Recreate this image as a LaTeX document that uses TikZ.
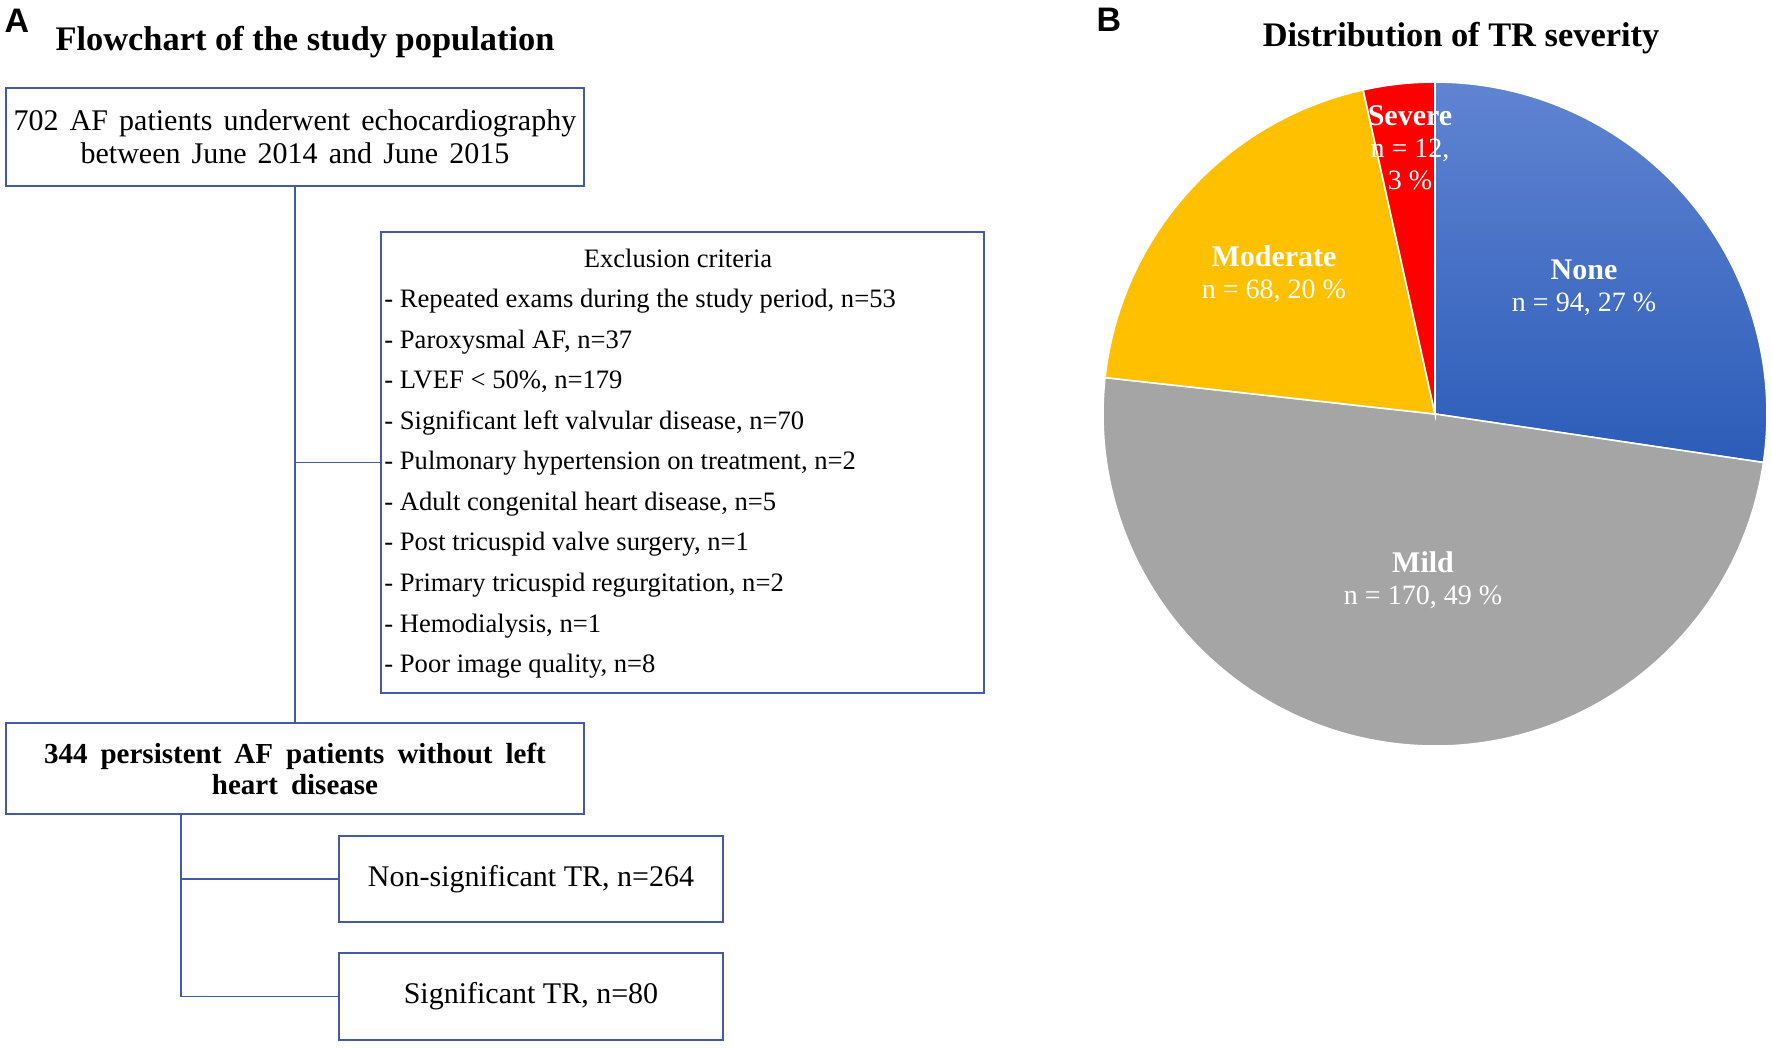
\documentclass[tikz,border=0pt]{standalone}
\usepackage{fontspec}
\setmainfont{Liberation Serif}
\newfontfamily\panelfont{Liberation Sans}
\usetikzlibrary{calc}
\definecolor{edgeblue}{RGB}{68,90,165}
\definecolor{nonetop}{RGB}{96,132,210}
\definecolor{nonebot}{RGB}{44,92,184}
\definecolor{mildgray}{RGB}{165,165,165}
\definecolor{modyellow}{RGB}{255,192,0}
\definecolor{sevred}{RGB}{255,0,0}
\newcommand{\widesp}[1]{\spaceskip=#1\relax}
\begin{document}
\begin{tikzpicture}[x=0.5pt,y=-0.5pt,
  box/.style={draw=edgeblue, line width=0.8pt, inner sep=0pt},
  conn/.style={draw=edgeblue, line width=0.8pt},
  crit/.style={anchor=base west, inner sep=0pt, font=\fontsize{13.3}{16}\selectfont},
  paneltag/.style={inner sep=0pt, font=\panelfont\bfseries\fontsize{17}{19}\selectfont},
  ptitle/.style={inner sep=0pt, font=\bfseries\fontsize{17.2}{20}\selectfont},
  slice/.style={draw=white, line width=0.8pt},
  pielab/.style={text=white, align=center, inner sep=0pt, font=\fontsize{14}{16}\selectfont}]
\useasboundingbox[fill=white] (0,0) rectangle (1772,1049);

% ---------- Panel A ----------
\node[paneltag] (la) at (17,21) {A};
\node[ptitle] (ta) at (305,42) {Flowchart of the study population};

\node[box, minimum width=289pt, minimum height=49pt, align=center,
      font=\fontsize{15}{16.5}\selectfont\widesp{0.37em}] (b1) at (295,137)
  {702 AF patients underwent echocardiography\\between June 2014 and June 2015};

\node[box, minimum width=301.5pt, minimum height=230.5pt] (ex) at (682.5,462.5) {};
\node[inner sep=0pt, font=\fontsize{13.3}{16}\selectfont] (ext) at (678,258) {Exclusion criteria};
\node[crit] (e1) at (384,307.5) {- Repeated exams during the study period, n=53};
\node[crit] (e2) at (384,348) {- Paroxysmal AF, n=37};
\node[crit] (e3) at (384,388.6) {- LVEF < 50\%, n=179};
\node[crit] (e4) at (384,429.2) {- Significant left valvular disease, n=70};
\node[crit] (e5) at (384,469.7) {- Pulmonary hypertension on treatment, n=2};
\node[crit] (e6) at (384,510.3) {- Adult congenital heart disease, n=5};
\node[crit] (e7) at (384,550.9) {- Post tricuspid valve surgery, n=1};
\node[crit] (e8) at (384,591.4) {- Primary tricuspid regurgitation, n=2};
\node[crit] (e9) at (384,632) {- Hemodialysis, n=1};
\node[crit] (e10) at (384,672.5) {- Poor image quality, n=8};

\node[box, minimum width=289pt, minimum height=45.5pt, align=center,
      font=\bfseries\fontsize{14.5}{15.5}\selectfont\widesp{0.45em}] (b344) at (295,768.5)
  {344 persistent AF patients without left\\heart disease};

\node[box, minimum width=192pt, minimum height=43pt,
      font=\fontsize{15}{17}\selectfont] (ns) at (531,879) {Non-significant TR, n=264};
\node[box, minimum width=192pt, minimum height=43.5pt,
      font=\fontsize{15}{17}\selectfont] (sig) at (531,996.5) {Significant TR, n=80};

\draw[conn] (b1.south) -- (b344.north);
\draw[conn] (b1.south |- ex.west) -- (ex.west);
\coordinate (t) at ($(b344.south west)+(176,0)$);
\draw[conn] (t) |- (sig.west);
\draw[conn] (t |- ns.west) -- (ns.west);

% ---------- Panel B ----------
\node[paneltag] (lb) at (1109,20) {B};
\node[ptitle] (tb) at (1461,38) {Distribution of TR severity};

\coordinate (pc) at (1435,414);
\path[slice, top color=nonetop, bottom color=nonebot]
  (pc) -- ($(pc)+(90:166pt)$) arc[start angle=90, end angle=-8.4, radius=166pt] -- cycle;
\path[slice, fill=mildgray]
  (pc) -- ($(pc)+(-8.4:166pt)$) arc[start angle=-8.4, end angle=-186.3, radius=166pt] -- cycle;
\path[slice, fill=modyellow]
  (pc) -- ($(pc)+(173.7:166pt)$) arc[start angle=173.7, end angle=102.5, radius=166pt] -- cycle;
\path[slice, fill=sevred]
  (pc) -- ($(pc)+(102.5:166pt)$) arc[start angle=102.5, end angle=90, radius=166pt] -- cycle;

\node[pielab] (lnone) at (1584,288) {\textbf{\fontsize{15}{16}\selectfont None}\\n = 94, 27 \%};
\node[pielab] (lmild) at (1423,580) {\textbf{\fontsize{15}{16}\selectfont Mild}\\n = 170, 49 \%};
\node[pielab] (lmod) at (1274,274) {\textbf{\fontsize{15}{16}\selectfont Moderate}\\n = 68, 20 \%};
\node[pielab] (lsev) at (1410,148) {\textbf{\fontsize{15}{16}\selectfont Severe}\\n = 12,\\3 \%};
\end{tikzpicture}
\end{document}
